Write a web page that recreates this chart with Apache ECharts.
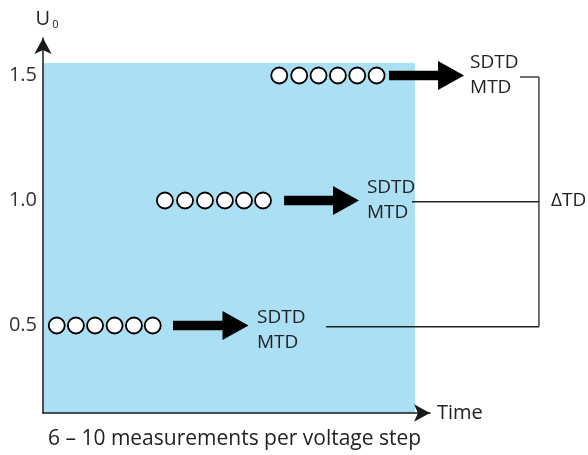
<!DOCTYPE html>
<html><head><meta charset="utf-8">
<script src="https://cdn.jsdelivr.net/npm/echarts@6/dist/echarts.min.js"></script>
<style>html,body{margin:0;padding:0;background:#fff}#c{width:588px;height:455px}</style>
</head><body><div id="c"></div>
<script>
// ---- data (time in arbitrary units, voltage U0 in units of U0) ----
const levels = [0.5, 1.0, 1.5];
const tickLabels = ['0.5', '1.0', '1.5'];
const times05 = [0.71, 1.70, 2.69, 3.70, 4.70, 5.67];
const times10 = [6.30, 7.34, 8.37, 9.40, 10.39, 11.37];
const times15 = [12.21, 13.24, 14.24, 15.24, 16.24, 17.24];
const arrowStart = [6.72, 12.46, 17.88];
const arrowEnd = [10.62, 16.33, 21.76];
const resultTime = [11.06, 16.74, 22.07];
const resultLevel = [0.48, 1.0, 1.5];
const resultText = ['SDTD\nMTD', 'SDTD\nMTD', 'SDTD\nMTD'];
const bracketFrom = [14.63, 19.07, 24.65];
const bracketLevel = [0.495, 0.995, 1.494];
const bracketTo = [25.63];
const deltaLabel = ['ΔTD'];
const deltaTime = [26.25];
const deltaLevel = [1.0];
const areaTime = [0, 19.22];
const areaLevel = [0.15, 1.55];
const xName = 'Time';
const yName = 'U';
const ySub = '0';
const caption = '6 – 10 measurements per voltage step';

const FONT = '"Open Sans", "Noto Sans", sans-serif';
const TXT = '#222';

const pointData = [];
[times05, times10, times15].forEach((arr, i) => arr.forEach(t => pointData.push([t, levels[i]])));

const chart = echarts.init(document.getElementById('c'), null, {renderer: 'canvas'});
chart.setOption({
  animation: false,
  backgroundColor: '#fff',
  title: {
    text: caption, left: 43, top: 424,
    textStyle: {fontFamily: FONT, fontSize: 21, fontWeight: 'normal', color: TXT}
  },
  grid: {left: 43, top: 38, right: 158, bottom: 42, containLabel: false},
  xAxis: {
    type: 'value', min: 0, max: 20,
    name: xName, nameLocation: 'end', nameGap: 7,
    nameTextStyle: {fontFamily: FONT, fontSize: 20, color: TXT, verticalAlign: 'middle', align: 'left', padding: [0, 0, 4, 0]},
    axisLine: {show: true, symbol: ['none', 'arrow'], symbolSize: [13, 16], lineStyle: {color: '#1a1a1a', width: 1.5}},
    axisTick: {show: false}, axisLabel: {show: false}, splitLine: {show: false}
  },
  yAxis: {
    type: 'value', min: 0.15, max: 1.65,
    name: '{u|' + yName + '}{s|' + ySub + '}', nameLocation: 'end', nameGap: 8,
    nameTextStyle: {
      align: 'center', verticalAlign: 'bottom', padding: [0, 0, 0, 8],
      rich: {
        u: {fontFamily: FONT, fontSize: 20, color: TXT},
        s: {fontFamily: FONT, fontSize: 11, color: TXT, padding: [11, 0, 0, 2]}
      }
    },
    axisLine: {show: true, onZero: false, symbol: ['none', 'arrow'], symbolSize: [13, 16], lineStyle: {color: '#1a1a1a', width: 1.5}},
    axisTick: {show: false},
    axisLabel: {
      show: true, customValues: levels, margin: 6,
      fontFamily: FONT, fontSize: 20, color: '#333',
      formatter: v => tickLabels[levels.indexOf(v)] ?? v.toFixed(1)
    },
    splitLine: {show: false}
  },
  series: [
    {
      type: 'custom', z: -1, silent: true, clip: false,
      data: [[areaTime[0], areaLevel[0], areaTime[1], areaLevel[1]]],
      renderItem: (params, api) => {
        const p0 = api.coord([api.value(0), api.value(3)]);
        const p1 = api.coord([api.value(2), api.value(1)]);
        return {type: 'rect', shape: {x: p0[0], y: p0[1], width: p1[0] - p0[0], height: p1[1] - p0[1]},
          style: {fill: '#abdff3'}};
      }
    },
    {
      type: 'scatter', data: pointData, symbol: 'circle', symbolSize: 16, z: 5,
      itemStyle: {color: '#ffffff', borderColor: '#000', borderWidth: 1.8, opacity: 1}
    },
    {
      type: 'custom', clip: false, silent: true, z: 4,
      data: levels.map((l, i) => [arrowStart[i], arrowEnd[i], l]),
      renderItem: (params, api) => {
        const a = api.coord([api.value(0), api.value(2)]);
        const b = api.coord([api.value(1), api.value(2)]);
        const y = a[1], sh = 4.7, hh = 14.5, hl = 26;
        return {type: 'polygon', shape: {points: [
          [a[0], y - sh], [b[0] - hl, y - sh], [b[0] - hl, y - hh], [b[0], y],
          [b[0] - hl, y + hh], [b[0] - hl, y + sh], [a[0], y + sh]]},
          style: {fill: '#000'}};
      }
    },
    {
      type: 'custom', clip: false, silent: true, z: 4,
      data: levels.map((l, i) => [resultTime[i], resultLevel[i]]),
      renderItem: (params, api) => {
        const p = api.coord([api.value(0), api.value(1)]);
        return {type: 'text', x: p[0], y: p[1], style: {
          text: resultText[params.dataIndex], fontFamily: FONT, fontSize: 19, lineHeight: 25,
          fill: TXT, align: 'left', verticalAlign: 'middle'}};
      }
    },
    {
      type: 'custom', clip: false, silent: true, z: 4,
      data: levels.map((l, i) => [bracketFrom[i], bracketLevel[i]]),
      renderItem: (params, api) => {
        const a = api.coord([api.value(0), api.value(1)]);
        const b = api.coord([bracketTo[0], api.value(1)]);
        const children = [{type: 'line', shape: {x1: a[0], y1: a[1], x2: b[0], y2: b[1]},
          style: {stroke: '#222', lineWidth: 1.3}}];
        if (params.dataIndex === 0) {
          const t = api.coord([bracketTo[0], bracketLevel[bracketLevel.length - 1]]);
          children.push({type: 'line', shape: {x1: b[0], y1: b[1], x2: t[0], y2: t[1]},
            style: {stroke: '#222', lineWidth: 1.3}});
        }
        return {type: 'group', children};
      }
    },
    {
      type: 'custom', clip: false, silent: true, z: 4,
      data: deltaLabel.map((s, i) => [deltaTime[i], deltaLevel[i]]),
      renderItem: (params, api) => {
        const p = api.coord([api.value(0), api.value(1)]);
        return {type: 'text', x: p[0], y: p[1], style: {
          text: deltaLabel[params.dataIndex], fontFamily: FONT, fontSize: 19,
          fill: TXT, align: 'left', verticalAlign: 'middle'}};
      }
    }
  ]
});
</script>
</body></html>
